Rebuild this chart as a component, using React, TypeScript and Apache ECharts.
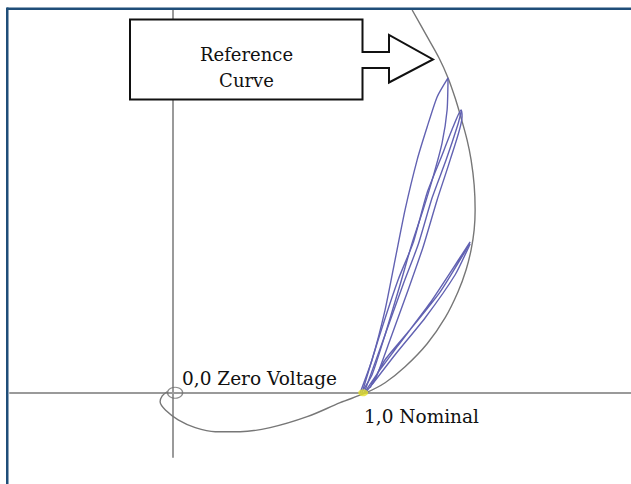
import React, { useEffect, useRef } from "react";
import * as echarts from "echarts";

// Voltage-plane coordinates (per-unit): real (x), imaginary (y)
const referenceCurve: number[][] = [
  [1.245, 1.995], [1.318, 1.865], [1.385, 1.745], [1.432, 1.641], [1.469, 1.536],
  [1.5, 1.432], [1.531, 1.318], [1.552, 1.214], [1.568, 1.083], [1.573, 0.953],
  [1.568, 0.849], [1.552, 0.745], [1.526, 0.641], [1.484, 0.526], [1.417, 0.391],
  [1.323, 0.255], [1.208, 0.135], [1.104, 0.052], [1.005, 0.0], [0.87, -0.052],
  [0.698, -0.125], [0.505, -0.182], [0.349, -0.203], [0.219, -0.203], [0.115, -0.182],
  [0.026, -0.141], [-0.036, -0.094], [-0.068, -0.047], [-0.057, -0.016], [-0.031, 0.005],
];

const trajectoryA: number[][] = [
  [0.974, 0], [1.036, 0.172], [1.104, 0.432], [1.156, 0.693], [1.208, 0.953],
  [1.271, 1.214], [1.323, 1.385], [1.375, 1.542], [1.432, 1.641],
  [1.427, 1.474], [1.401, 1.302], [1.354, 1.125], [1.302, 0.953], [1.245, 0.781],
  [1.182, 0.563], [1.104, 0.302], [1.036, 0.094], [0.984, 0.005],
];

const trajectoryB: number[][] = [
  [0.984, 0], [1.068, 0.276], [1.172, 0.589], [1.25, 0.781], [1.323, 1.042],
  [1.391, 1.214], [1.458, 1.385], [1.5, 1.474],
  [1.505, 1.438], [1.443, 1.214], [1.375, 1.005], [1.302, 0.76], [1.224, 0.536],
  [1.13, 0.276], [1.052, 0.068], [1.005, 0.005],
];

const trajectoryB2: number[][] = [
  [0.995, 0], [1.089, 0.26], [1.203, 0.578], [1.276, 0.771], [1.349, 1.016],
  [1.422, 1.214], [1.484, 1.401], [1.5, 1.464],
];

const trajectoryC: number[][] = [
  [1.0, 0.005], [1.078, 0.12], [1.167, 0.24], [1.339, 0.469], [1.51, 0.729], [1.547, 0.786],
  [1.526, 0.745], [1.391, 0.526], [1.234, 0.328], [1.104, 0.172], [1.026, 0.026],
];

const trajectoryC2: number[][] = [
  [1.036, 0.042], [1.156, 0.198], [1.313, 0.391], [1.469, 0.615], [1.547, 0.776],
];

const zeroPoint: number[][] = [[0.01, 0]];
const nominalPoint: number[][] = [[0.99, 0]];

const xRange = [-0.85, 2.385];
const yRange = [-0.335, 1.995];

const labelZero = "0,0 Zero Voltage";
const labelNominal = "1,0 Nominal";
const calloutLines = ["Reference", "Curve"];

const FONT = "'DejaVu Serif', 'Liberation Serif', serif";

export default function App() {
  const ref = useRef<HTMLDivElement>(null);

  useEffect(() => {
    if (!ref.current) return;
    const chart = echarts.init(ref.current, undefined, { renderer: "svg" });
    const blue = "#6262b2";
    const trajStyle = (data: number[][]) => ({
      type: "line",
      data,
      showSymbol: false,
      smooth: 0.2,
      lineStyle: { color: blue, width: 1.4 },
      silent: true,
      z: 3,
    });

    chart.setOption({
      animation: false,
      backgroundColor: "#ffffff",
      grid: { left: 10, top: 10, width: 621, height: 447, containLabel: false },
      xAxis: {
        type: "value",
        min: xRange[0],
        max: xRange[1],
        axisLine: { show: true, onZero: true, lineStyle: { color: "#9a9a9a", width: 2 } },
        axisTick: { show: false },
        axisLabel: { show: false },
        splitLine: { show: false },
      },
      yAxis: {
        type: "value",
        min: yRange[0],
        max: yRange[1],
        axisLine: { show: true, onZero: true, lineStyle: { color: "#9a9a9a", width: 2 } },
        axisTick: { show: false },
        axisLabel: { show: false },
        splitLine: { show: false },
      },
      series: [
        {
          type: "line",
          data: referenceCurve,
          showSymbol: false,
          smooth: 0.35,
          lineStyle: { color: "#777777", width: 1.4 },
          silent: true,
          z: 2,
        },
        trajStyle(trajectoryA),
        trajStyle(trajectoryB),
        trajStyle(trajectoryB2),
        trajStyle(trajectoryC),
        trajStyle(trajectoryC2),
        {
          type: "scatter",
          data: zeroPoint,
          symbol: "circle",
          symbolSize: [15, 11],
          itemStyle: { color: "rgba(0,0,0,0)", borderColor: "#6f6f6f", borderWidth: 1.2 },
          silent: true,
          z: 4,
        },
        {
          type: "scatter",
          data: nominalPoint,
          symbol: "circle",
          symbolSize: [10, 7],
          itemStyle: { color: "#e4e02a" },
          silent: true,
          z: 5,
        },
      ],
      graphic: [
        {
          type: "line",
          shape: { x1: 7, y1: 8.75, x2: 640, y2: 8.75 },
          style: { stroke: "#1f4e79", lineWidth: 2.5 },
          z: 100,
          silent: true,
        },
        {
          type: "line",
          shape: { x1: 7.25, y1: 7.5, x2: 7.25, y2: 490 },
          style: { stroke: "#1f4e79", lineWidth: 2.5 },
          z: 100,
          silent: true,
        },
        {
          type: "polygon",
          shape: {
            points: [
              [130, 19.5], [362.5, 19.5], [362.5, 52], [389, 52], [389, 35],
              [433, 59.5], [389, 82.5], [389, 68], [362.5, 68], [362.5, 99.5], [130, 99.5],
            ],
          },
          style: { fill: "#ffffff", stroke: "#111111", lineWidth: 2 },
          z: 50,
          silent: true,
        },
        {
          type: "text",
          x: 246.5,
          y: 54,
          style: { text: calloutLines[0], font: `18px ${FONT}`, fill: "#111111", align: "center", verticalAlign: "middle" },
          z: 51,
          silent: true,
        },
        {
          type: "text",
          x: 246.5,
          y: 80,
          style: { text: calloutLines[1], font: `18px ${FONT}`, fill: "#111111", align: "center", verticalAlign: "middle" },
          z: 51,
          silent: true,
        },
        {
          type: "text",
          x: 182,
          y: 378,
          style: { text: labelZero, font: `18.5px ${FONT}`, fill: "#111111", align: "left", verticalAlign: "middle" },
          z: 51,
          silent: true,
        },
        {
          type: "text",
          x: 364,
          y: 416,
          style: { text: labelNominal, font: `18.5px ${FONT}`, fill: "#111111", align: "left", verticalAlign: "middle" },
          z: 51,
          silent: true,
        },
      ],
    });

    return () => chart.dispose();
  }, []);

  return (
    <div
      ref={ref}
      style={{ position: "fixed", left: 0, top: 0, width: 631, height: 484, background: "#fff" }}
    />
  );
}
